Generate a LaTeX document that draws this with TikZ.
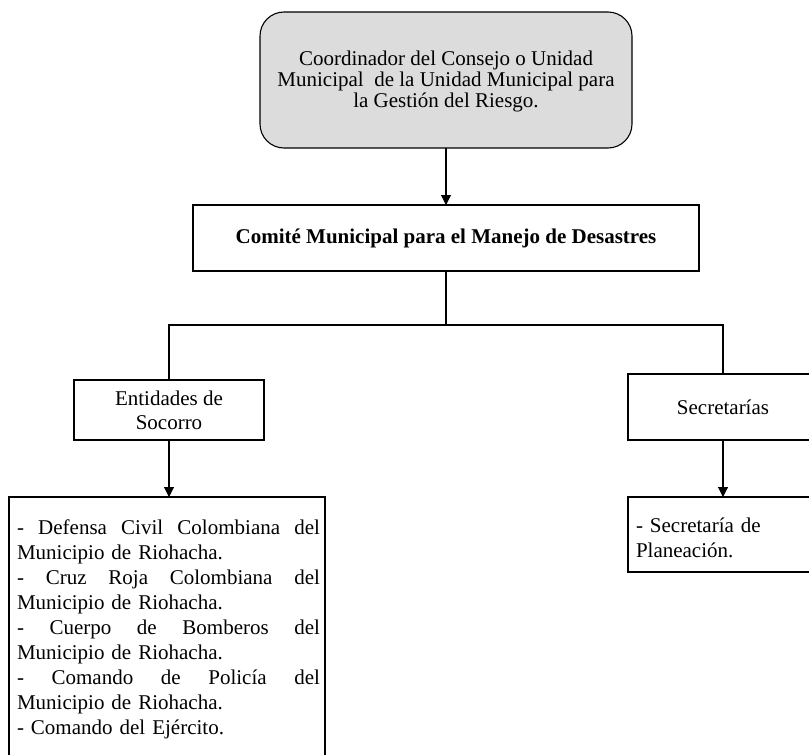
\documentclass[tikz,border=0pt]{standalone}
\usepackage{fontspec}
\setmainfont{Liberation Serif}
\usetikzlibrary{arrows.meta}
\definecolor{boxgray}{RGB}{220,220,220}
% one line of a justified paragraph, spread over the full width
\newcommand{\jline}[1]{\leavevmode\hbox to 303pt{#1}}
% lower a box without changing the size it reports
\newcommand{\lowerby}[2]{\raisebox{-#1}[\height][\depth]{#2}}
\begin{document}
\begin{tikzpicture}[x=1pt,y=-1pt,
  every node/.style={inner sep=0pt, outer sep=0pt},
  orgbox/.style={draw=black, line width=1.1pt, rectangle},
  bodyfont/.style={font=\fontsize{21}{24}\selectfont},
  listtext/.style={font=\fontsize{21}{25}\selectfont, align=left, anchor=base west},
  link/.style={draw=black, line width=1.1pt},
  arrowlink/.style={link, -{Triangle[length=10pt,width=10pt]}}]
\useasboundingbox (0,0) rectangle (809,755);
\clip (0,0) rectangle (809,755);

% coordinator
\node[orgbox, rounded corners=24pt, fill=boxgray, minimum width=372pt, minimum height=136pt]
  (coord) at (446,80) {\lowerby{2pt}{\fontsize{21}{21}\selectfont
    \begin{tabular}{@{}c@{}}Coordinador del Consejo o Unidad\\
    Municipal\ \ de la Unidad Municipal para\\
    la Gestión del Riesgo.\end{tabular}}};

% committee
\node[orgbox, minimum width=506pt, minimum height=66pt, bodyfont]
  (comite) at (446,238) {\bfseries Comité Municipal para el Manejo de Desastres};

% second level
\node[orgbox, minimum width=190pt, minimum height=60pt, bodyfont, align=center]
  (entidades) at (169,410) {Entidades de\\Socorro};
\node[orgbox, minimum width=190pt, minimum height=66pt, bodyfont]
  (secretarias) at (723,407) {Secretarías};

% third level boxes
\node[orgbox, minimum width=316pt, minimum height=290pt] (socorro) at (167,642) {};
\node[orgbox, minimum width=190pt, minimum height=75pt] (planeacion) at (723,534.5) {};

% box contents
\node[listtext, text width=303pt] (socorrotext) at (17,534) {%
\jline{-\hfill Defensa\hfill Civil\hfill Colombiana\hfill del}\\
Municipio de Riohacha.\\
\jline{-\hfill Cruz\hfill Roja\hfill Colombiana\hfill del}\\
Municipio de Riohacha.\\
\jline{-\hfill Cuerpo\hfill de\hfill Bomberos\hfill del}\\
Municipio de Riohacha.\\
\jline{-\hfill Comando\hfill de\hfill Policía\hfill del}\\
Municipio de Riohacha.\\
- Comando del Ejército.};
\node[listtext, text width=170pt] (planeaciontext) at (636,532) {%
- Secretaría de\\
Planeación.};

% connectors
\coordinate (bus) at (446,325);
\draw[arrowlink] (coord.south) -- (comite.north);
\draw[link] (comite.south) -- (bus);
\draw[link] (entidades.north) |- (bus) -| (secretarias.north);
\draw[arrowlink] (entidades.south) -- (entidades.south |- socorro.north);
\draw[arrowlink] (secretarias.south) -- (planeacion.north);
\end{tikzpicture}
\end{document}
